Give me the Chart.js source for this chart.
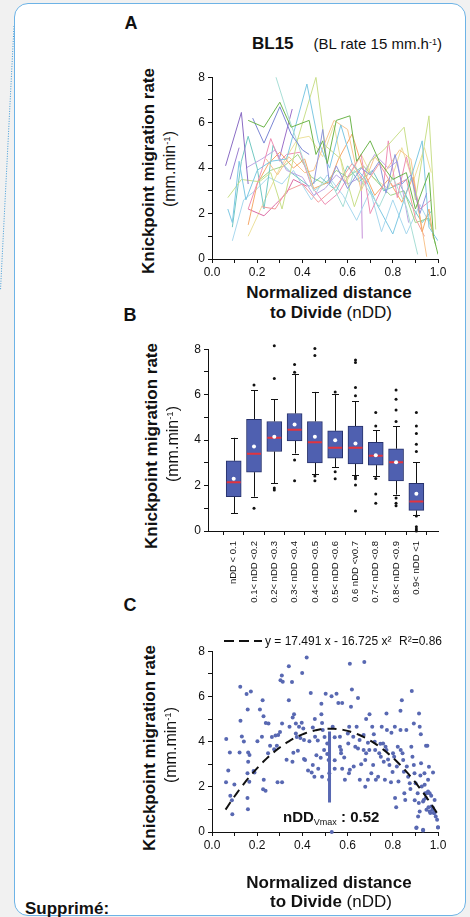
<!DOCTYPE html>
<html>
<head>
<meta charset="utf-8">
<script src="https://cdn.jsdelivr.net/npm/chart.js@4.4.0/dist/chart.umd.min.js"></script>
<style>
html, body { margin: 0; padding: 0; background: #f1f1f1; }
body { width: 470px; height: 917px; position: relative; overflow: hidden;
       font-family: "Liberation Sans", Arial, sans-serif; color: #111; }
.card { position: absolute; left: 14px; top: 3px; width: 452px; height: 913px; background: #fff;
        border: 1.5px solid #6db3e6; border-radius: 14px; box-sizing: border-box; }
canvas { position: absolute; }
.t { position: absolute; white-space: nowrap; line-height: 1; transform: translate(-50%, -50%); }
.l { position: absolute; white-space: nowrap; line-height: 1; transform: translateY(-50%); }
.rot { transform: translate(-50%, -50%) rotate(-90deg); }
.b { font-weight: bold; }
.sup { font-size: 0.6em; position: relative; top: -0.5em; }
.sub { font-size: 0.6em; font-weight: normal; position: relative; top: 0.35em; }
</style>
</head>
<body>
<svg width="20" height="300" style="position:absolute;left:0;top:0">
  <line x1="14" y1="26" x2="0.5" y2="290" stroke="#3d9ad8" stroke-width="1" stroke-dasharray="1 1.5"/>
</svg>
<div class="card"></div>

<canvas id="chartA"></canvas>
<canvas id="chartB"></canvas>
<canvas id="chartC"></canvas>

<!-- panel A texts -->
<div class="t b" style="left:131px;top:23px;font-size:18px">A</div>
<div class="l" style="left:252px;top:43px"><span class="b" style="font-size:17px">BL15</span><span style="font-size:15px;margin-left:20px">(BL rate 15 mm.h<span class="sup">-1</span>)</span></div>
<div class="t rot b" style="left:148px;top:171px;font-size:17px">Knickpoint migration rate</div>
<div class="t rot" style="left:170px;top:169px;font-size:16px">(mm.min<span class="sup">-1</span>)</div>
<div class="t b" style="left:329px;top:292px;font-size:17px">Normalized distance</div>
<div class="t" style="left:331px;top:312px;font-size:17px"><span class="b">to Divide</span> (nDD)</div>

<!-- panel B texts -->
<div class="t b" style="left:130px;top:315px;font-size:18px">B</div>
<div class="t rot b" style="left:151px;top:446px;font-size:17px">Knickpoint migration rate</div>
<div class="t rot" style="left:173px;top:444px;font-size:16px">(mm.min<span class="sup">-1</span>)</div>

<!-- panel C texts -->
<div class="t b" style="left:130px;top:605px;font-size:18px">C</div>
<svg width="40" height="6" style="position:absolute;left:224px;top:638px">
  <line x1="0" y1="3" x2="38" y2="3" stroke="#111" stroke-width="2" stroke-dasharray="10 5"/>
</svg>
<div class="l" style="left:265px;top:641px;font-size:12px">y = 17.491 x - 16.725 x²</div>
<div class="l" style="left:399px;top:641px;font-size:12px">R²=0.86</div>
<div class="l b" style="left:283px;top:816px;font-size:15px">nDD<span class="sub">Vmax</span> : 0.52</div>
<div class="t rot b" style="left:149px;top:748px;font-size:17px">Knickpoint migration rate</div>
<div class="t rot" style="left:171px;top:745px;font-size:16px">(mm.min<span class="sup">-1</span>)</div>
<div class="t b" style="left:329px;top:882px;font-size:17px">Normalized distance</div>
<div class="t" style="left:331px;top:901px;font-size:17px"><span class="b">to Divide</span> (nDD)</div>
<div class="l b" style="left:25px;top:908px;font-size:17px">Supprimé:</div>

<script>
// ---- A: individual knickpoint runs (nDD, rate) ----
const trace01 = [[0.06,4.1],[0.13,6.45],[0.16,3.3]];
const trace02 = [[0.08,3.5],[0.12,4.9]];
const trace03 = [[0.16,6.1],[0.23,5.8],[0.30,6.9],[0.35,5.8],[0.43,6.1],[0.46,4.6],[0.49,5.2],[0.51,4.2],[0.55,6.1],[0.61,6.3],[0.64,4.3],[0.70,5.2],[0.74,4.3],[0.80,3.5],[0.86,3.8],[0.90,2.2],[0.96,3.8],[0.98,1.0],[1.0,0.2]];
const trace04 = [[0.18,6.2],[0.23,5.1],[0.30,6.7],[0.35,5.5],[0.40,4.8],[0.43,4.6]];
const trace05 = [[0.45,3.3],[0.49,5.7],[0.52,3.3],[0.55,4.1],[0.60,3.1],[0.66,4.0],[0.70,3.7],[0.74,4.3],[0.77,2.9],[0.81,4.6],[0.84,3.3],[0.88,3.7],[0.92,2.0],[0.95,2.9]];
const trace06 = [[0.28,8.1],[0.34,6.2],[0.40,4.5],[0.45,3.0],[0.52,3.5],[0.58,2.3],[0.63,3.9],[0.68,3.2],[0.74,2.3],[0.80,3.6],[0.86,2.3],[0.91,0.2]];
const trace07 = [[0.07,2.2],[0.09,1.6],[0.12,4.3],[0.15,2.6],[0.20,3.9],[0.26,4.3],[0.33,4.4],[0.42,7.7],[0.47,5.2],[0.52,4.0],[0.57,5.9],[0.62,4.2],[0.68,3.5],[0.73,2.4],[0.80,1.1],[0.86,2.9],[0.93,5.2],[0.96,1.4],[1.0,0.8]];
const trace08 = [[0.07,2.7],[0.13,3.5],[0.21,3.4],[0.26,3.8],[0.31,2.2],[0.38,5.3],[0.46,8.0],[0.50,5.0],[0.57,4.4],[0.63,2.3],[0.70,4.3],[0.76,4.8],[0.85,5.8],[0.90,2.6],[0.96,6.3],[0.99,1.3]];
const trace09 = [[0.16,2.2],[0.22,3.9],[0.26,5.3],[0.30,4.3],[0.33,4.6],[0.39,4.7],[0.44,3.2],[0.50,2.4],[0.56,2.9],[0.60,3.6],[0.66,4.6],[0.70,2.0],[0.76,3.3],[0.78,5.2],[0.82,2.7],[0.86,4.5],[0.92,2.2],[0.97,2.6]];
const trace10 = [[0.16,1.5],[0.20,3.3],[0.25,4.2],[0.30,4.7],[0.36,4.0],[0.41,4.4],[0.45,3.1],[0.52,3.4],[0.56,4.4],[0.62,5.5],[0.67,3.9],[0.72,2.8],[0.78,3.5],[0.84,2.5],[0.89,3.6],[0.93,1.2],[0.96,2.2],[0.98,0.9]];
const trace11 = [[0.24,4.4],[0.29,3.7],[0.34,4.5],[0.41,3.8],[0.45,3.9],[0.54,6.1],[0.60,5.7],[0.66,3.0],[0.72,4.5],[0.77,3.9],[0.83,4.8],[0.88,4.4],[0.92,1.9],[0.95,0.1]];
const trace12 = [[0.22,2.3],[0.28,2.2],[0.33,3.0],[0.40,3.3],[0.47,2.5],[0.55,3.2],[0.62,4.2],[0.68,3.3],[0.74,4.2],[0.80,3.2],[0.86,3.5],[0.90,1.8],[0.94,1.0]];
const trace13 = [[0.15,4.0],[0.22,4.4],[0.28,4.8],[0.33,3.9],[0.40,3.6],[0.45,2.8],[0.50,3.1],[0.55,3.7],[0.60,3.3],[0.66,3.6],[0.72,4.6],[0.78,4.0],[0.82,4.3],[0.87,1.6]];
const trace14 = [[0.09,1.4],[0.13,4.3],[0.16,5.4],[0.20,4.0],[0.23,2.2],[0.27,5.0],[0.31,4.2],[0.35,3.8],[0.43,3.2],[0.48,3.6],[0.55,3.0],[0.60,4.1],[0.65,3.4],[0.71,3.9],[0.76,3.0],[0.83,3.3],[0.88,2.4],[0.93,1.6],[0.97,2.1]];
const trace15 = [[0.20,3.4],[0.26,3.9],[0.32,4.1],[0.38,4.6],[0.44,3.6],[0.50,3.3],[0.55,3.9],[0.60,3.6],[0.67,4.1],[0.73,3.4],[0.79,2.8],[0.85,3.0],[0.90,1.6],[0.96,1.8],[0.99,0.6]];
const trace16 = [[0.09,0.8],[0.14,2.6],[0.19,3.0],[0.25,3.6],[0.31,3.3],[0.36,3.9],[0.44,2.6],[0.51,3.7],[0.58,2.8],[0.64,1.7],[0.70,3.0],[0.75,1.2],[0.80,2.6],[0.86,1.1],[0.92,2.4],[0.97,1.4]];
const trace17 = [[0.16,2.2],[0.23,1.9],[0.28,2.4],[0.33,2.9],[0.36,3.5],[0.42,3.2]];
const trace18 = [[0.16,1.0],[0.22,2.3],[0.30,4.0],[0.38,5.3],[0.43,5.4],[0.49,4.5],[0.54,5.9],[0.59,3.3],[0.66,4.6],[0.71,3.6],[0.78,3.1],[0.84,4.9],[0.89,3.4],[0.94,4.9],[0.97,3.8]];
const trace19 = [[0.30,4.5],[0.355,6.6]];
const trace20 = [[0.66,3.6],[0.665,0.9]];
const traces = [trace01, trace02, trace03, trace04, trace05, trace06, trace07, trace08, trace09, trace10,
                trace11, trace12, trace13, trace14, trace15, trace16, trace17, trace18, trace19, trace20];
const traceColors = ['#8a6cc4', '#9b7fd0', '#6db54c', '#7b86d4', '#8f95dc', '#a8ded6', '#7ec8e3', '#c9df8a', '#ee8fb4', '#f5a86a',
                     '#f8c48e', '#f29c9c', '#bba6e3', '#72c8c2', '#9fd48a', '#a8d8ee', '#db6aa3', '#ece09c', '#9b6fc9', '#c590d8'];

// ---- B: box statistics per nDD bin ----
const binLabels = ['nDD < 0.1', '0.1< nDD <0.2', '0.2< nDD <0.3', '0.3< nDD <0.4', '0.4< nDD <0.5',
                   '0.5< nDD <0.6', '0.6 nDD <v0.7', '0.7< nDD <0.8', '0.8< nDD <0.9', '0.9< nDD <1'];
const boxQ1       = [1.51, 2.59, 3.50, 3.96, 3.00, 3.21, 2.95, 2.90, 2.20, 0.91];
const boxQ3       = [3.09, 4.91, 4.82, 5.17, 4.82, 4.41, 4.62, 3.90, 3.62, 2.10];
const boxMedian   = [2.15, 3.40, 4.10, 4.45, 3.91, 3.66, 3.66, 3.31, 3.02, 1.30];
const boxMean     = [2.30, 3.72, 4.15, 4.69, 4.15, 3.99, 3.85, 3.33, 3.02, 1.64];
const whiskerLow  = [0.79, 1.51, 2.10, 3.41, 2.49, 2.81, 2.45, 2.42, 1.60, 0.70];
const whiskerHigh = [4.10, 6.20, 5.80, 6.92, 6.12, 6.02, 5.70, 4.44, 4.62, 3.02];
const outliers = [
  [], [6.42, 1.0], [8.15, 6.71, 1.89, 1.80], [7.33, 6.99, 3.12, 2.21], [8.03, 7.72, 2.42, 2.21],
  [6.12, 2.61, 2.30], [7.52, 7.41, 6.32, 5.95, 2.39, 2.30, 2.02, 0.88], [5.22, 4.62, 2.31, 1.63, 1.22],
  [6.20, 5.80, 5.32, 4.82, 1.45, 1.22, 1.11], [5.22, 4.62, 4.29, 3.82, 3.50, 0.66, 0.19, 0.09, 0.0]
];

// ---- C: all measurements (nDD, rate) + quadratic fit ----
const allPoints = [
  [0.063,4.11],[0.079,3.52],[0.072,2.72],[0.062,2.20],[0.081,1.60],[0.088,1.40],[0.090,0.79],[0.099,2.10],
  [0.125,6.43],[0.126,4.92],[0.132,4.23],[0.122,3.52],[0.141,4.00],[0.153,6.11],[0.158,5.42],[0.172,6.22],
  [0.160,3.52],[0.166,3.41],[0.160,3.11],[0.157,2.60],[0.165,2.22],[0.157,1.50],[0.159,1.01],[0.184,2.70],
  [0.188,2.63],[0.201,4.01],[0.212,5.42],[0.224,5.83],[0.221,4.21],[0.228,5.12],[0.238,4.82],[0.229,2.31],
  [0.226,1.89],[0.237,1.82],[0.250,4.80],[0.257,3.82],[0.248,3.49],[0.265,4.20],[0.275,3.66],[0.287,3.82],
  [0.281,4.27],[0.293,4.29],[0.301,4.43],[0.303,6.72],[0.309,6.92],[0.313,6.65],[0.310,4.80],[0.310,2.20],
  [0.290,2.20],[0.340,7.33],[0.340,5.83],[0.354,6.64],[0.343,4.66],[0.357,5.07],[0.363,5.21],[0.360,3.51],
  [0.356,3.11],[0.371,4.80],[0.371,4.36],[0.375,4.20],[0.385,4.66],[0.391,4.16],[0.399,7.03],[0.397,4.83],
  [0.404,4.58],[0.407,4.07],[0.419,7.72],[0.407,3.23],[0.412,3.19],[0.431,4.02],[0.437,6.15],[0.425,2.72],
  [0.441,2.63],[0.446,2.97],[0.453,2.45],[0.446,4.62],[0.456,4.21],[0.462,3.40],[0.470,2.80],[0.468,4.05],
  [0.484,5.68],[0.484,5.21],[0.487,4.82],[0.490,4.51],[0.481,3.29],[0.487,2.45],[0.496,3.63],[0.503,6.12],
  [0.510,3.92],[0.510,3.45],[0.516,3.19],[0.519,2.60],[0.518,2.31],[0.529,6.01],[0.534,4.66],[0.543,4.19],
  [0.543,3.17],[0.543,2.80],[0.551,6.12],[0.559,5.71],[0.566,4.21],[0.566,3.77],[0.571,3.63],[0.571,3.48],
  [0.576,5.71],[0.576,2.80],[0.588,2.31],[0.601,4.36],[0.603,3.92],[0.607,4.66],[0.606,2.60],[0.610,2.75],
  [0.610,7.44],[0.615,5.54],[0.619,6.30],[0.625,4.21],[0.634,3.77],[0.640,4.66],[0.646,5.93],[0.646,3.70],
  [0.653,4.07],[0.654,2.31],[0.660,3.00],[0.671,4.29],[0.671,3.63],[0.674,7.52],[0.678,2.00],[0.678,3.19],
  [0.682,5.00],[0.682,3.48],[0.690,3.95],[0.690,2.31],[0.697,5.21],[0.696,3.63],[0.709,4.66],[0.713,2.97],
  [0.716,4.33],[0.720,3.99],[0.722,3.63],[0.725,2.31],[0.735,2.45],[0.740,3.48],[0.747,3.33],[0.751,4.66],
  [0.757,3.92],[0.760,3.11],[0.765,2.31],[0.768,3.77],[0.772,5.24],[0.772,3.63],[0.774,4.51],[0.779,3.21],
  [0.785,2.97],[0.794,4.39],[0.799,2.66],[0.801,3.48],[0.806,3.33],[0.809,4.66],[0.810,1.50],[0.815,1.09],
  [0.822,3.77],[0.825,2.23],[0.834,5.36],[0.840,5.83],[0.834,4.51],[0.835,3.63],[0.843,3.48],[0.846,3.19],
  [0.849,2.67],[0.851,1.72],[0.855,1.42],[0.860,4.51],[0.868,2.45],[0.875,2.16],[0.884,6.24],[0.882,3.77],
  [0.887,3.33],[0.893,4.80],[0.893,2.97],[0.896,2.60],[0.901,2.16],[0.904,0.18],[0.910,1.72],[0.915,1.28],
  [0.916,5.24],[0.919,4.66],[0.924,4.33],[0.925,3.04],[0.928,2.01],[0.934,0.07],[0.937,1.42],[0.940,2.60],
  [0.943,1.72],[0.949,0.98],[0.947,3.82],[0.953,3.82],[0.956,2.31],[0.960,2.89],[0.963,1.72],[0.966,0.84],
  [0.971,1.13],[0.975,0.98],[0.978,2.63],[0.981,0.84],[0.985,1.42],[0.990,0.69],[0.996,0.54],[1.000,0.21],
  [0.530,0.00],[0.963,0.91],[0.978,1.06],[0.985,0.84],[0.912,0.69],[0.919,0.91],[0.934,1.35],[0.949,1.72],
  [0.941,2.09],[0.956,1.79],[0.946,1.50],[0.905,0.20],[0.934,0.10],[1.000,0.20],
  [0.330,3.20],[0.380,3.60],[0.455,5.00],[0.498,4.20],[0.585,3.30],[0.627,2.90],[0.705,2.60],[0.745,3.90],
  [0.792,2.20],[0.818,2.90],[0.862,2.90],[0.878,1.90],[0.897,1.40],[0.922,2.50],[0.958,1.10],[0.970,1.60]
];
const fitA = 17.491, fitB = 16.725;   // y = a x - b x²
const fitRange = [0.06, 1.0];
const nddVmax = 0.52;
const vmaxSpan = [1.3, 4.45];

Chart.defaults.font.family = '"Liberation Sans", Arial, sans-serif';
Chart.defaults.color = '#111';

// canvas placed so that the chart area lands on the given rectangle
function place(id, area, yW, xH, padTop, padRight) {
  const c = document.getElementById(id);
  const w = yW + (area.right - area.left) + padRight;
  const h = padTop + (area.bottom - area.top) + xH;
  c.width = w; c.height = h;
  c.style.left = (area.left - yW) + 'px';
  c.style.top = (area.top - padTop) + 'px';
  c.style.width = w + 'px'; c.style.height = h + 'px';
  return c;
}

const axisGrid = { drawOnChartArea: false, drawTicks: true, tickLength: 4, color: '#111', tickColor: '#111' };
const axisBorder = { display: true, color: '#111', width: 1 };

function evenOnly(v) {
  return Math.round(v) % 2 === 0 ? String(Math.round(v)) : '';
}
function ndd(v) {
  const k = Math.round(v * 10);
  return k % 2 === 0 ? (k / 10).toFixed(1) : '';
}

function nddAxes(yW, xH) {
  return {
    x: {
      type: 'linear', min: 0, max: 1,
      afterBuildTicks: s => { s.ticks = [0,1,2,3,4,5,6,7,8,9,10].map(k => ({ value: k / 10 })); },
      afterFit: s => { s.height = xH; },
      grid: axisGrid, border: axisBorder,
      ticks: { callback: ndd, font: { size: 12 }, padding: 2, maxRotation: 0, autoSkip: false }
    },
    y: {
      min: 0, max: 8,
      afterBuildTicks: s => { s.ticks = [0,1,2,3,4,5,6,7,8].map(v => ({ value: v })); },
      afterFit: s => { s.width = yW; },
      grid: axisGrid, border: axisBorder,
      ticks: { callback: evenOnly, font: { size: 12 }, padding: 3 }
    }
  };
}

const common = {
  responsive: false, animation: false, devicePixelRatio: 1,
  plugins: { legend: { display: false }, tooltip: { enabled: false } }
};

// ---- A ----
new Chart(place('chartA', { left: 212, top: 77, right: 438, bottom: 259 }, 34, 22, 10, 14), {
  type: 'line',
  data: {
    datasets: traces.map((t, i) => ({
      data: t, borderColor: traceColors[i], borderWidth: 1, pointRadius: 0, tension: 0, fill: false
    }))
  },
  options: { ...common, layout: { padding: { top: 10, right: 14 } }, scales: nddAxes(34, 22) }
});

// ---- B ----
const boxParts = {
  id: 'boxParts',
  beforeDatasetsDraw(chart) {
    const { ctx, scales: { x, y } } = chart;
    ctx.save();
    ctx.strokeStyle = '#111';
    ctx.lineWidth = 1;
    ctx.beginPath();
    binLabels.forEach((_, i) => {
      const px = Math.round(x.getPixelForValue(i + 1)) + 0.5;
      ctx.moveTo(px, y.getPixelForValue(whiskerLow[i]));
      ctx.lineTo(px, y.getPixelForValue(boxQ1[i]));
      ctx.moveTo(px, y.getPixelForValue(boxQ3[i]));
      ctx.lineTo(px, y.getPixelForValue(whiskerHigh[i]));
      [whiskerLow[i], whiskerHigh[i]].forEach(v => {
        const py = Math.round(y.getPixelForValue(v)) + 0.5;
        ctx.moveTo(px - 3.5, py);
        ctx.lineTo(px + 3.5, py);
      });
    });
    ctx.stroke();
    ctx.restore();
  },
  afterDatasetDraw(chart, args) {
    if (args.index !== 0) return;
    const { ctx, scales: { x, y } } = chart;
    ctx.save();
    ctx.strokeStyle = '#e2343f';
    ctx.lineWidth = 2;
    ctx.beginPath();
    boxMedian.forEach((m, i) => {
      const px = x.getPixelForValue(i + 1);
      const py = y.getPixelForValue(m);
      ctx.moveTo(px - 7, py);
      ctx.lineTo(px + 7, py);
    });
    ctx.stroke();
    ctx.restore();
  }
};

const outlierPts = [];
outliers.forEach((list, i) => list.forEach(v => outlierPts.push({ x: i + 1, y: v })));

new Chart(place('chartB', { left: 208, top: 349, right: 438, bottom: 531 }, 30, 80, 10, 12), {
  type: 'bar',
  data: {
    datasets: [
      {
        data: binLabels.map((_, i) => ({ x: i + 1, y: [boxQ1[i], boxQ3[i]] })),
        backgroundColor: '#4f60b0', borderColor: '#27326c', borderWidth: 1,
        borderSkipped: false, barThickness: 15, order: 3
      },
      {
        type: 'scatter', data: outlierPts, pointRadius: 1.5, clip: false,
        backgroundColor: '#111', borderWidth: 0, order: 2
      },
      {
        type: 'scatter', data: boxMean.map((m, i) => ({ x: i + 1, y: m })), pointRadius: 2,
        backgroundColor: '#ffffff', borderWidth: 0, order: 1
      }
    ]
  },
  options: {
    ...common,
    layout: { padding: { top: 10, right: 12 } },
    scales: {
      x: {
        type: 'linear', min: 0.3, max: 10.5,
        afterBuildTicks: s => { s.ticks = binLabels.map((_, i) => ({ value: i + 1 })); },
        afterFit: s => { s.height = 80; },
        grid: axisGrid, border: axisBorder,
        ticks: {
          callback: v => binLabels[Math.round(v) - 1],
          font: { size: 9.5 }, padding: 6, minRotation: 90, maxRotation: 90, autoSkip: false
        }
      },
      y: {
        min: 0, max: 8,
        afterBuildTicks: s => { s.ticks = [0,1,2,3,4,5,6,7,8].map(v => ({ value: v })); },
        afterFit: s => { s.width = 30; },
        grid: axisGrid, border: axisBorder,
        ticks: { callback: evenOnly, font: { size: 12 }, padding: 3 }
      }
    }
  },
  plugins: [boxParts]
});

// ---- C ----
const fitCurve = [];
for (let x = fitRange[0]; x <= fitRange[1] + 1e-9; x += 0.01) {
  fitCurve.push({ x: x, y: fitA * x - fitB * x * x });
}

new Chart(place('chartC', { left: 212, top: 651, right: 438, bottom: 832 }, 34, 22, 10, 14), {
  type: 'scatter',
  data: {
    datasets: [
      {
        data: allPoints.map(p => ({ x: p[0], y: p[1] })),
        pointRadius: 2, backgroundColor: '#5868b2', borderWidth: 0, clip: false, order: 3
      },
      {
        type: 'line', data: fitCurve, borderColor: '#111', borderWidth: 2,
        borderDash: [9, 6], pointRadius: 0, fill: false, order: 1
      },
      {
        type: 'line', data: vmaxSpan.map(v => ({ x: nddVmax, y: v })), borderColor: '#5868b2',
        borderWidth: 3, pointRadius: 0, fill: false, order: 2
      }
    ]
  },
  options: { ...common, layout: { padding: { top: 10, right: 14 } }, scales: nddAxes(34, 22) }
});
</script>
</body>
</html>
